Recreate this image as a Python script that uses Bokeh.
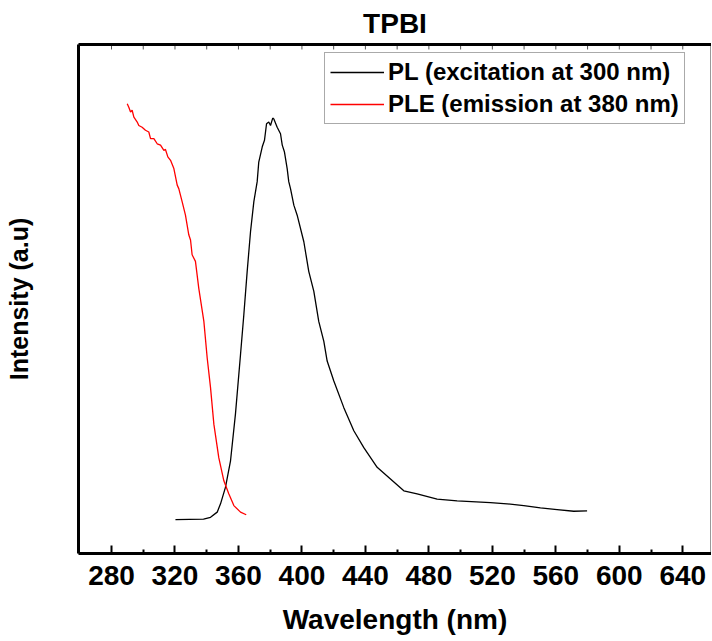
from bokeh.plotting import figure
from bokeh.models import (Range1d, LinearAxis, FixedTicker, Legend, LegendItem)
from bokeh.embed import file_html
from bokeh.resources import INLINE

# PL (excitation at 300 nm): wavelength (nm) and intensity (a.u.)
pl_wl = [320.3, 338.0, 342.4, 346.6, 348.7, 351.8, 355.0, 358.1, 361.3, 363.4,
         365.5, 367.6, 369.7, 371.8, 372.8, 375.0, 376.4, 377.7, 379.1, 380.2,
         381.6, 382.3, 384.4, 386.5, 387.6, 389.0, 390.7, 391.7, 392.8, 394.9,
         397.0, 401.2, 404.3, 407.5, 410.6, 413.8, 415.9, 420.1, 426.4, 432.7,
         439.0, 447.4, 455.8, 464.2, 472.6, 485.2, 497.8, 518.8, 529.3, 539.8,
         550.3, 560.8, 571.3, 579.7]
pl_int = [0.078, 0.079, 0.083, 0.095, 0.114, 0.152, 0.213, 0.320, 0.457, 0.549,
          0.648, 0.739, 0.808, 0.854, 0.899, 0.934, 0.949, 0.987, 0.991, 0.983,
          1.000, 0.998, 0.979, 0.964, 0.938, 0.922, 0.884, 0.854, 0.838, 0.800,
          0.777, 0.716, 0.648, 0.602, 0.533, 0.487, 0.442, 0.396, 0.335, 0.282,
          0.243, 0.198, 0.171, 0.144, 0.137, 0.125, 0.121, 0.117, 0.114, 0.110,
          0.105, 0.101, 0.097, 0.098]

# PLE (emission at 380 nm)
ple_wl = [289.9, 290.9, 292.0, 293.0, 294.1, 296.2, 297.2, 299.3, 301.4, 303.5,
          304.6, 306.7, 308.8, 310.9, 313.0, 314.0, 315.5, 317.2, 319.3, 321.4,
          322.4, 324.5, 326.6, 328.7, 329.8, 330.8, 332.9, 335.0, 338.2, 340.3,
          342.4, 344.5, 347.6, 350.8, 353.9, 357.1, 361.3, 364.9]
ple_int = [1.033, 1.025, 1.014, 1.018, 1.002, 0.991, 0.983, 0.979, 0.972, 0.968,
           0.953, 0.953, 0.941, 0.938, 0.926, 0.928, 0.911, 0.903, 0.884, 0.846,
           0.838, 0.808, 0.777, 0.732, 0.720, 0.686, 0.671, 0.609, 0.533, 0.449,
           0.381, 0.297, 0.220, 0.167, 0.137, 0.110, 0.095, 0.089]

x_major = [280, 320, 360, 400, 440, 480, 520, 560, 600, 640]
x_minor = [300, 340, 380, 420, 460, 500, 540, 580, 620]
x_top = list(range(280, 660, 20))

FONT = "Liberation Sans"
X0, X1 = 259.2, 658.1
Y0, Y1 = 0.0, 1.169

p = figure(width=711, height=641, output_backend="svg", toolbar_location=None,
           x_range=Range1d(X0, X1), y_range=Range1d(Y0, Y1),
           x_axis_location=None, y_axis_location=None,
           min_border_left=78, min_border_right=0, min_border_top=42,
           min_border_bottom=88)
p.grid.visible = False
p.outline_line_color = "#999999"
p.outline_line_width = 1
p.background_fill_color = "white"
p.border_fill_color = "white"

p.title.text = "TPBI"
p.title.align = "center"
p.title.text_font = FONT
p.title.text_font_size = "28px"
p.title.text_font_style = "bold"
p.title.text_color = "black"
p.title.standoff = 11

xb = LinearAxis(ticker=FixedTicker(ticks=x_major, minor_ticks=x_minor))
xb.axis_label = "Wavelength (nm)"
xb.axis_label_text_font = FONT
xb.axis_label_text_font_size = "28px"
xb.axis_label_text_font_style = "bold"
xb.axis_label_text_color = "black"
xb.axis_label_standoff = 16
xb.major_label_text_font = FONT
xb.major_label_text_font_size = "28px"
xb.major_label_text_font_style = "bold"
xb.major_label_text_color = "black"
xb.major_label_standoff = 12
xb.axis_line_width = 3
xb.major_tick_in = 8
xb.major_tick_out = 0
xb.major_tick_line_width = 2
xb.minor_tick_in = 4
xb.minor_tick_out = 0
xb.minor_tick_line_width = 2
p.add_layout(xb, "below")

xt = LinearAxis(ticker=FixedTicker(ticks=[]))
xt.axis_line_width = 3
xt.major_tick_in = 0
xt.major_tick_out = 0
xt.minor_tick_in = 0
xt.minor_tick_out = 0
xt.major_label_standoff = 0
p.add_layout(xt, "above")

yl = LinearAxis(ticker=FixedTicker(ticks=[]))
yl.axis_label = "Intensity (a.u)"
yl.axis_label_text_font = FONT
yl.axis_label_text_font_size = "25px"
yl.axis_label_text_font_style = "bold"
yl.axis_label_text_color = "black"
yl.axis_label_standoff = 46
yl.axis_line_width = 3
yl.major_tick_in = 0
yl.major_tick_out = 0
yl.minor_tick_in = 0
yl.minor_tick_out = 0
p.add_layout(yl, "left")

# small inward ticks hanging from the top frame line
tick_len = (Y1 - Y0) * 5.0 / 511.0
p.segment(x0=x_top, y0=[Y1] * len(x_top), x1=x_top, y1=[Y1 - tick_len] * len(x_top),
          line_color="#555555", line_width=1)

r_pl = p.line(pl_wl, pl_int, line_color="black", line_width=1.3)
r_ple = p.line(ple_wl, ple_int, line_color="#ff0000", line_width=1.3)

legend = Legend(items=[LegendItem(label="PL (excitation at 300 nm)", renderers=[r_pl]),
                       LegendItem(label="PLE (emission at 380 nm)", renderers=[r_ple])],
                location=(246, 429))
legend.label_text_font = FONT
legend.label_text_font_size = "24px"
legend.label_text_font_style = "bold"
legend.label_text_color = "black"
legend.glyph_width = 54
legend.glyph_height = 26
legend.label_height = 26
legend.label_standoff = 4
legend.spacing = 4
legend.padding = 5
legend.margin = 0
legend.border_line_color = "#555555"
legend.border_line_width = 1
legend.background_fill_alpha = 1
p.add_layout(legend, "center")

open("out.html", "w").write(file_html(p, INLINE))
